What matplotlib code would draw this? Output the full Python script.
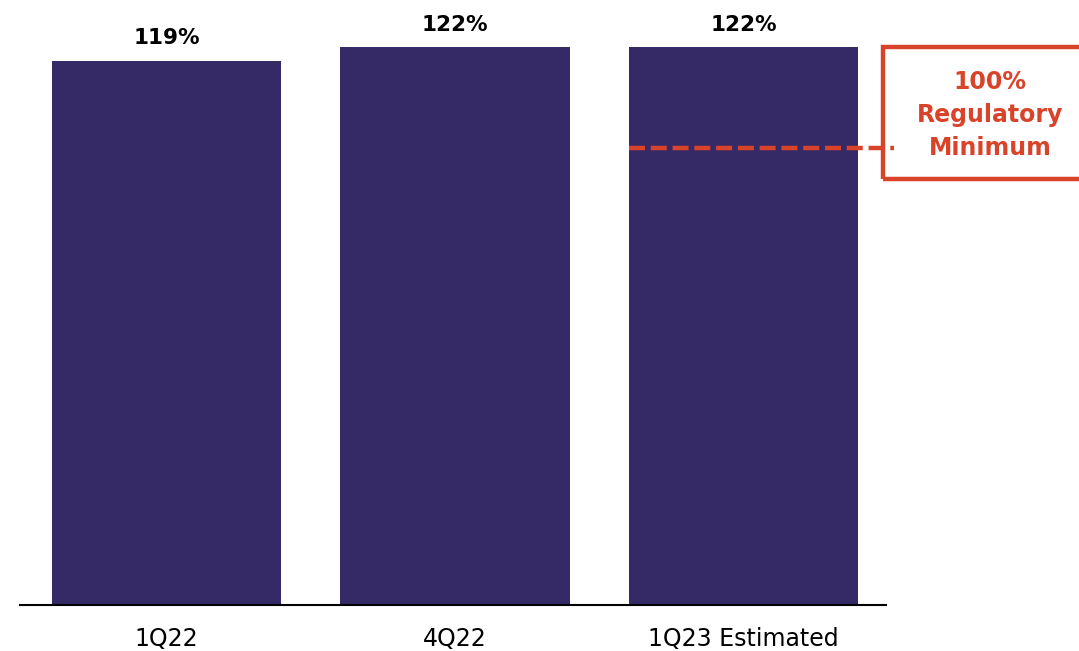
import matplotlib.pyplot as plt
from matplotlib.patches import Rectangle

# Liquidity coverage ratio by quarter
categories = ["1Q22", "4Q22", "1Q23 Estimated"]
ratios = [119, 122, 122]
value_labels = ["119%", "122%", "122%"]
reg_minimum = 100
reg_label = "100%\nRegulatory\nMinimum"

BAR_COLOR = "#352a66"
RED = "#d9432a"

fig = plt.figure(figsize=(10.79, 6.51), dpi=100)
ax = fig.add_axes([20 / 1079, 46 / 651, 866 / 1079, 595 / 651])

x = range(len(categories))
ax.bar(x, ratios, width=0.794, color=BAR_COLOR, zorder=2)

for xi, val, lab in zip(x, ratios, value_labels):
    ax.annotate(lab, (xi, val), xytext=(0, 9), textcoords="offset points",
                ha="center", va="bottom", fontsize=15.5, fontweight="bold",
                color="black")

ax.set_xlim(-0.508, 2.494)
ax.set_ylim(0, 130.1)
ax.set_xticks(list(x))
ax.set_xticklabels(categories, fontsize=17)
ax.tick_params(axis="x", length=0, pad=16)
ax.set_yticks([])
for side in ["top", "right", "left"]:
    ax.spines[side].set_visible(False)
ax.spines["bottom"].set_linewidth(1.5)

# regulatory minimum: dashed line from the last bar out to the callout box
ax.plot([2 - 0.397, 2.52], [reg_minimum, reg_minimum], color=RED, lw=3.2,
        dashes=(3.6, 1.3), clip_on=False, zorder=3, solid_capstyle="butt")

box = Rectangle((883 / 1079, (651 - 179) / 651), 0.3, 132 / 651,
                transform=fig.transFigure, fill=False, edgecolor=RED,
                lw=3.2, clip_on=False)
fig.patches.append(box)
fig.text(990 / 1079, (651 - 115) / 651, reg_label, ha="center", va="center",
         color=RED, fontsize=17, fontweight="bold", linespacing=1.45)

fig.savefig("out.png", dpi=100)
